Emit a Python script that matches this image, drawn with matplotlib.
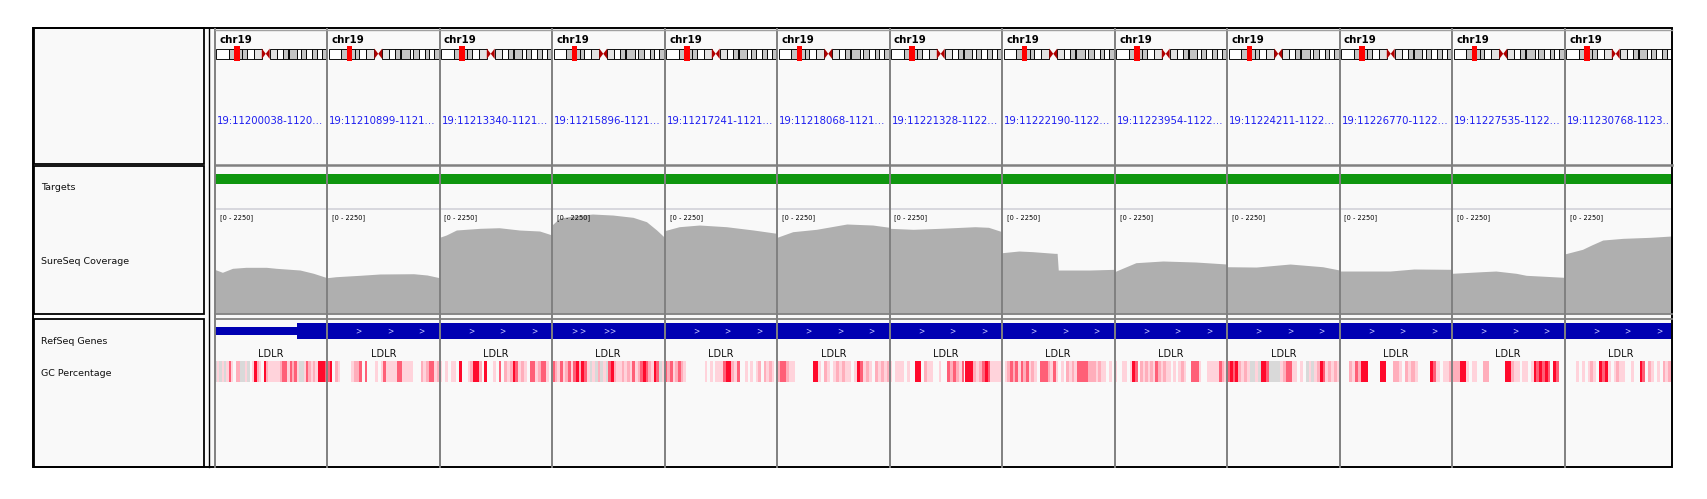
import matplotlib.pyplot as plt
from matplotlib.patches import Rectangle, Polygon

W, H = 1707, 499

# --- data ---
locus_starts = [11200038, 11210899, 11213340, 11215896, 11217241, 11218068, 11221328,
                11222190, 11223954, 11224211, 11226770, 11227535, 11230768]
locus_labels = ["19:11200038-1120\u2026", "19:11210899-1121\u2026", "19:11213340-1121\u2026",
                "19:11215896-1121\u2026", "19:11217241-1121\u2026", "19:11218068-1121\u2026",
                "19:11221328-1122\u2026", "19:11222190-1122\u2026", "19:11223954-1122\u2026",
                "19:11224211-1122\u2026", "19:11226770-1122\u2026", "19:11227535-1122\u2026",
                "19:11230768-1123.."]
chrom_name = "chr19"
chrom_len = 59128983
band_start = [0, 6900000, 13900000, 14000000, 16300000, 20000000, 24400000, 26500000, 28600000,
              32400000, 35500000, 38300000, 38700000, 43400000, 45200000, 48000000, 51400000,
              53600000, 56300000]
band_end = band_start[1:] + [chrom_len]
band_stain = ["gneg", "gpos25", "gneg", "gpos25", "gneg", "gvar", "acen", "acen", "gvar",
              "gneg", "gpos25", "gneg", "gpos25", "gneg", "gpos25", "gneg", "gpos25",
              "gneg", "gpos25"]

cov_max = 2250
cov_x = [
    [0, 0.07, 0.16, 0.28, 0.46, 0.55, 0.76, 0.88, 1.0],
    [0, 0.08, 0.29, 0.47, 0.77, 0.89, 1.0],
    [0, 0.06, 0.15, 0.36, 0.53, 0.71, 0.89, 1.0],
    [0, 0.065, 0.18, 0.36, 0.54, 0.72, 0.84, 0.93, 1.0],
    [0, 0.13, 0.31, 0.55, 0.79, 1.0],
    [0, 0.14, 0.35, 0.62, 0.85, 1.0],
    [0, 0.21, 0.45, 0.76, 0.88, 1.0],
    [0, 0.15, 0.27, 0.47, 0.49, 0.50, 0.78, 1.0],
    [0, 0.19, 0.43, 0.72, 1.0],
    [0, 0.26, 0.56, 0.85, 1.0],
    [0, 0.45, 0.66, 1.0],
    [0, 0.27, 0.39, 0.57, 0.66, 0.78, 1.0],
    [0, 0.16, 0.24, 0.34, 0.52, 0.76, 0.95, 1.0],
]
cov_depth = [
    [954, 889, 976, 998, 998, 976, 939, 867, 771],
    [771, 793, 823, 852, 858, 830, 771],
    [1653, 1704, 1813, 1850, 1863, 1813, 1791, 1704],
    [1922, 2068, 2119, 2162, 2140, 2090, 1994, 1813, 1653],
    [1798, 1885, 1922, 1885, 1813, 1740],
    [1653, 1776, 1828, 1944, 1922, 1872],
    [1850, 1828, 1850, 1885, 1872, 1776],
    [1317, 1354, 1340, 1303, 1303, 939, 939, 954],
    [903, 1099, 1136, 1114, 1070],
    [1011, 1004, 1070, 1011, 939],
    [917, 917, 961, 954],
    [867, 903, 917, 867, 823, 808, 779],
    [1289, 1391, 1485, 1594, 1631, 1653, 1682, 1682],
]

gene_name = "LDLR"
utr_end = [0.733] + [0.0] * 12
chevrons = [[]] + [[0.28, 0.56, 0.84]] * 2 + [[0.2, 0.27, 0.48, 0.54]] + [[0.28, 0.56, 0.84]] * 9

# GC percentage heat strips, one char per bin: . none, g grey, 1-4 light pink -> red
gc_strips = [
    "g1g1g131.22gg1g.1421.421111123313231gg1321214443",
    "34.21....1223.3...1.131111331111...2123312",
    "1.1.11.4..12442.4..1.3.21243121.3312331.",
    "32131231342431g1g2g1g3421121213123432143g1",
    "32312321.......1.1.111344213..1.1.12.2121.",
    "233211......441.21.121211.143121.21212",
    "1.111.1..44.211..1..3232134442123431111",
    ".123231323121.3332131.1.212133332221211.1.",
    "1..11.143.212121321211.1.121..3331..11111321",
    "34342121gg1g443gggg123311.1.g1g124312121",
    "...213244....44..221.2121....431.112",
    "222441.11..22......44211.11.1434343.43..",
    "....1.1.121.4341.1211..1..43.21.1.21212",
]
track_names = ["Targets", "SureSeq Coverage", "RefSeq Genes", "GC Percentage"]

# --- styling ---
gc_colors = {"g": "#d9d9d9", "1": "#ffd3db", "2": "#ffaebb", "3": "#ff5f77", "4": "#ff0a2c"}
stain_colors = {"gneg": "white", "gpos25": "#c4c4c4", "gvar": "#e2e2e2"}
panel_bg = "#f9f9f9"
sep_gray = "#808080"

DATA_X0, COL_W, DATA_X1 = 214.5, 112.5, 1672.3

fig = plt.figure(figsize=(W / 100, H / 100), dpi=100)


def px_axes(x0, y0, x1, y1):
    ax = fig.add_axes([x0 / W, 1 - y1 / H, (x1 - x0) / W, (y1 - y0) / H])
    ax.axis("off")
    return ax


bg = px_axes(0, 0, W, H)
bg.set_xlim(0, W)
bg.set_ylim(H, 0)

# panels
bg.add_patch(Rectangle((DATA_X0, 28), DATA_X1 - DATA_X0, 439, facecolor=panel_bg, lw=0))
bg.add_patch(Rectangle((203, 28), 11.5, 439, facecolor=panel_bg, lw=0))
for (y0, y1) in [(28, 164), (165.8, 314), (319, 467)]:
    bg.add_patch(Rectangle((33.5, y0), 170, y1 - y0, facecolor=panel_bg,
                           edgecolor="black", lw=1.3))
bg.plot([209.3, 209.3], [28, 467], color="black", lw=1.0)

for name, y in zip(track_names, [188, 262, 342, 373]):
    bg.text(41, y, name, fontsize=6.8, va="center", ha="left", color="#111111")

bg.plot([DATA_X0, DATA_X1], [209.3, 209.3], color="#d5d5dc", lw=1.3)

for i in range(len(locus_starts)):
    x0 = DATA_X0 + i * COL_W
    x1 = min(x0 + COL_W, DATA_X1)
    frac = (x1 - x0) / COL_W

    # header: chromosome name, ideogram, locus
    bg.text(x0 + 4.5, 40, chrom_name, fontsize=7.4, fontweight="bold", va="center", ha="left")
    bg.text(x0 + 2, 121, locus_labels[i], fontsize=7.3, color="#1c1cf0", va="center",
            ha="left", clip_on=True)

    ideo = px_axes(x0 + 1.5, 47.5, x1, 60)
    ideo.set_xlim(0, chrom_len * (x1 - x0 - 1.5) / (COL_W - 1.5))
    ideo.set_ylim(-0.1, 1.1)
    for s, e, st in zip(band_start, band_end, band_stain):
        if st == "acen":
            continue
        ideo.add_patch(Rectangle((s, 0), e - s, 1, facecolor=stain_colors[st],
                                 edgecolor="black", lw=0.65))
    cen_s = band_start[band_stain.index("acen")]
    cen_e = band_end[len(band_stain) - 1 - band_stain[::-1].index("acen")]
    cen_m = (cen_s + cen_e) / 2
    ideo.add_patch(Polygon([(cen_s, 0), (cen_s, 1), (cen_m, 0.5)], color="#b00000", lw=0))
    ideo.add_patch(Polygon([(cen_e, 0), (cen_e, 1), (cen_m, 0.5)], color="#b00000", lw=0))
    ideo.add_patch(Rectangle((locus_starts[i] - 1.5e6, -0.2), 3.0e6, 1.4, color="#ff0000",
                             lw=0, clip_on=False, zorder=5))

    # targets track
    tg = px_axes(x0, 174, x1, 184)
    tg.set_xlim(0, frac)
    tg.set_ylim(0, 1)
    tg.barh(0.5, 1.0, left=0, height=1, color="#0f960f", lw=0)

    # coverage track
    cv = px_axes(x0, 210, x1, 313)
    cv.set_xlim(0, frac)
    cv.set_ylim(0, cov_max)
    cv.fill_between(cov_x[i], 0, cov_depth[i], color="#afafaf", lw=0)

    # gene track
    gn = px_axes(x0, 322, x1, 340)
    gn.set_xlim(0, frac)
    gn.set_ylim(0, 1)
    if utr_end[i] > 0:
        gn.barh(0.5, utr_end[i], left=0, height=0.46, color="#0000b2", lw=0)
    gn.barh(0.5, 1.0 - utr_end[i], left=utr_end[i], height=0.88, color="#0000b2", lw=0)
    for c in chevrons[i]:
        gn.text(c, 0.5, ">", fontsize=5.5, color="#c8c8ff", ha="center", va="center")
    bg.text(x0 + COL_W / 2, 354, gene_name, fontsize=7, va="center", ha="center",
            color="#111111")

    # GC percentage track
    gc = px_axes(x0, 361, x1, 382)
    gc.set_xlim(0, frac)
    gc.set_ylim(0, 1)
    strip = gc_strips[i]
    n = len(strip)
    xs = [(k + 0.5) / n for k, ch in enumerate(strip) if ch != "."]
    cols = [gc_colors[ch] for ch in strip if ch != "."]
    gc.bar(xs, 1, width=1.0 / n, bottom=0, color=cols, lw=0)

# overlay: data range labels, separators and frame
top = px_axes(0, 0, W, H)
top.set_xlim(0, W)
top.set_ylim(H, 0)
for i in range(len(locus_starts)):
    xb = DATA_X0 + i * COL_W
    top.text(xb + 5, 217.5, "[0 - %d]" % cov_max, fontsize=4.8, va="center", ha="left")
    top.plot([xb, xb], [29, 466.5], color=sep_gray, lw=1.4)
top.plot([DATA_X0, DATA_X1], [164.6, 164.6], color=sep_gray, lw=1.8)
top.plot([DATA_X0, DATA_X1], [313.6, 313.6], color=sep_gray, lw=1.3)
top.plot([DATA_X0, DATA_X1], [318.6, 318.6], color=sep_gray, lw=1.3)
top.plot([DATA_X0, DATA_X1], [29.5, 29.5], color="#a0a0a0", lw=1.0)
top.add_patch(Rectangle((33.3, 27.7), DATA_X1 - 33.3, 439, fill=False, edgecolor="black",
                        lw=1.4))

fig.savefig("out.png", dpi=100, facecolor="white")
